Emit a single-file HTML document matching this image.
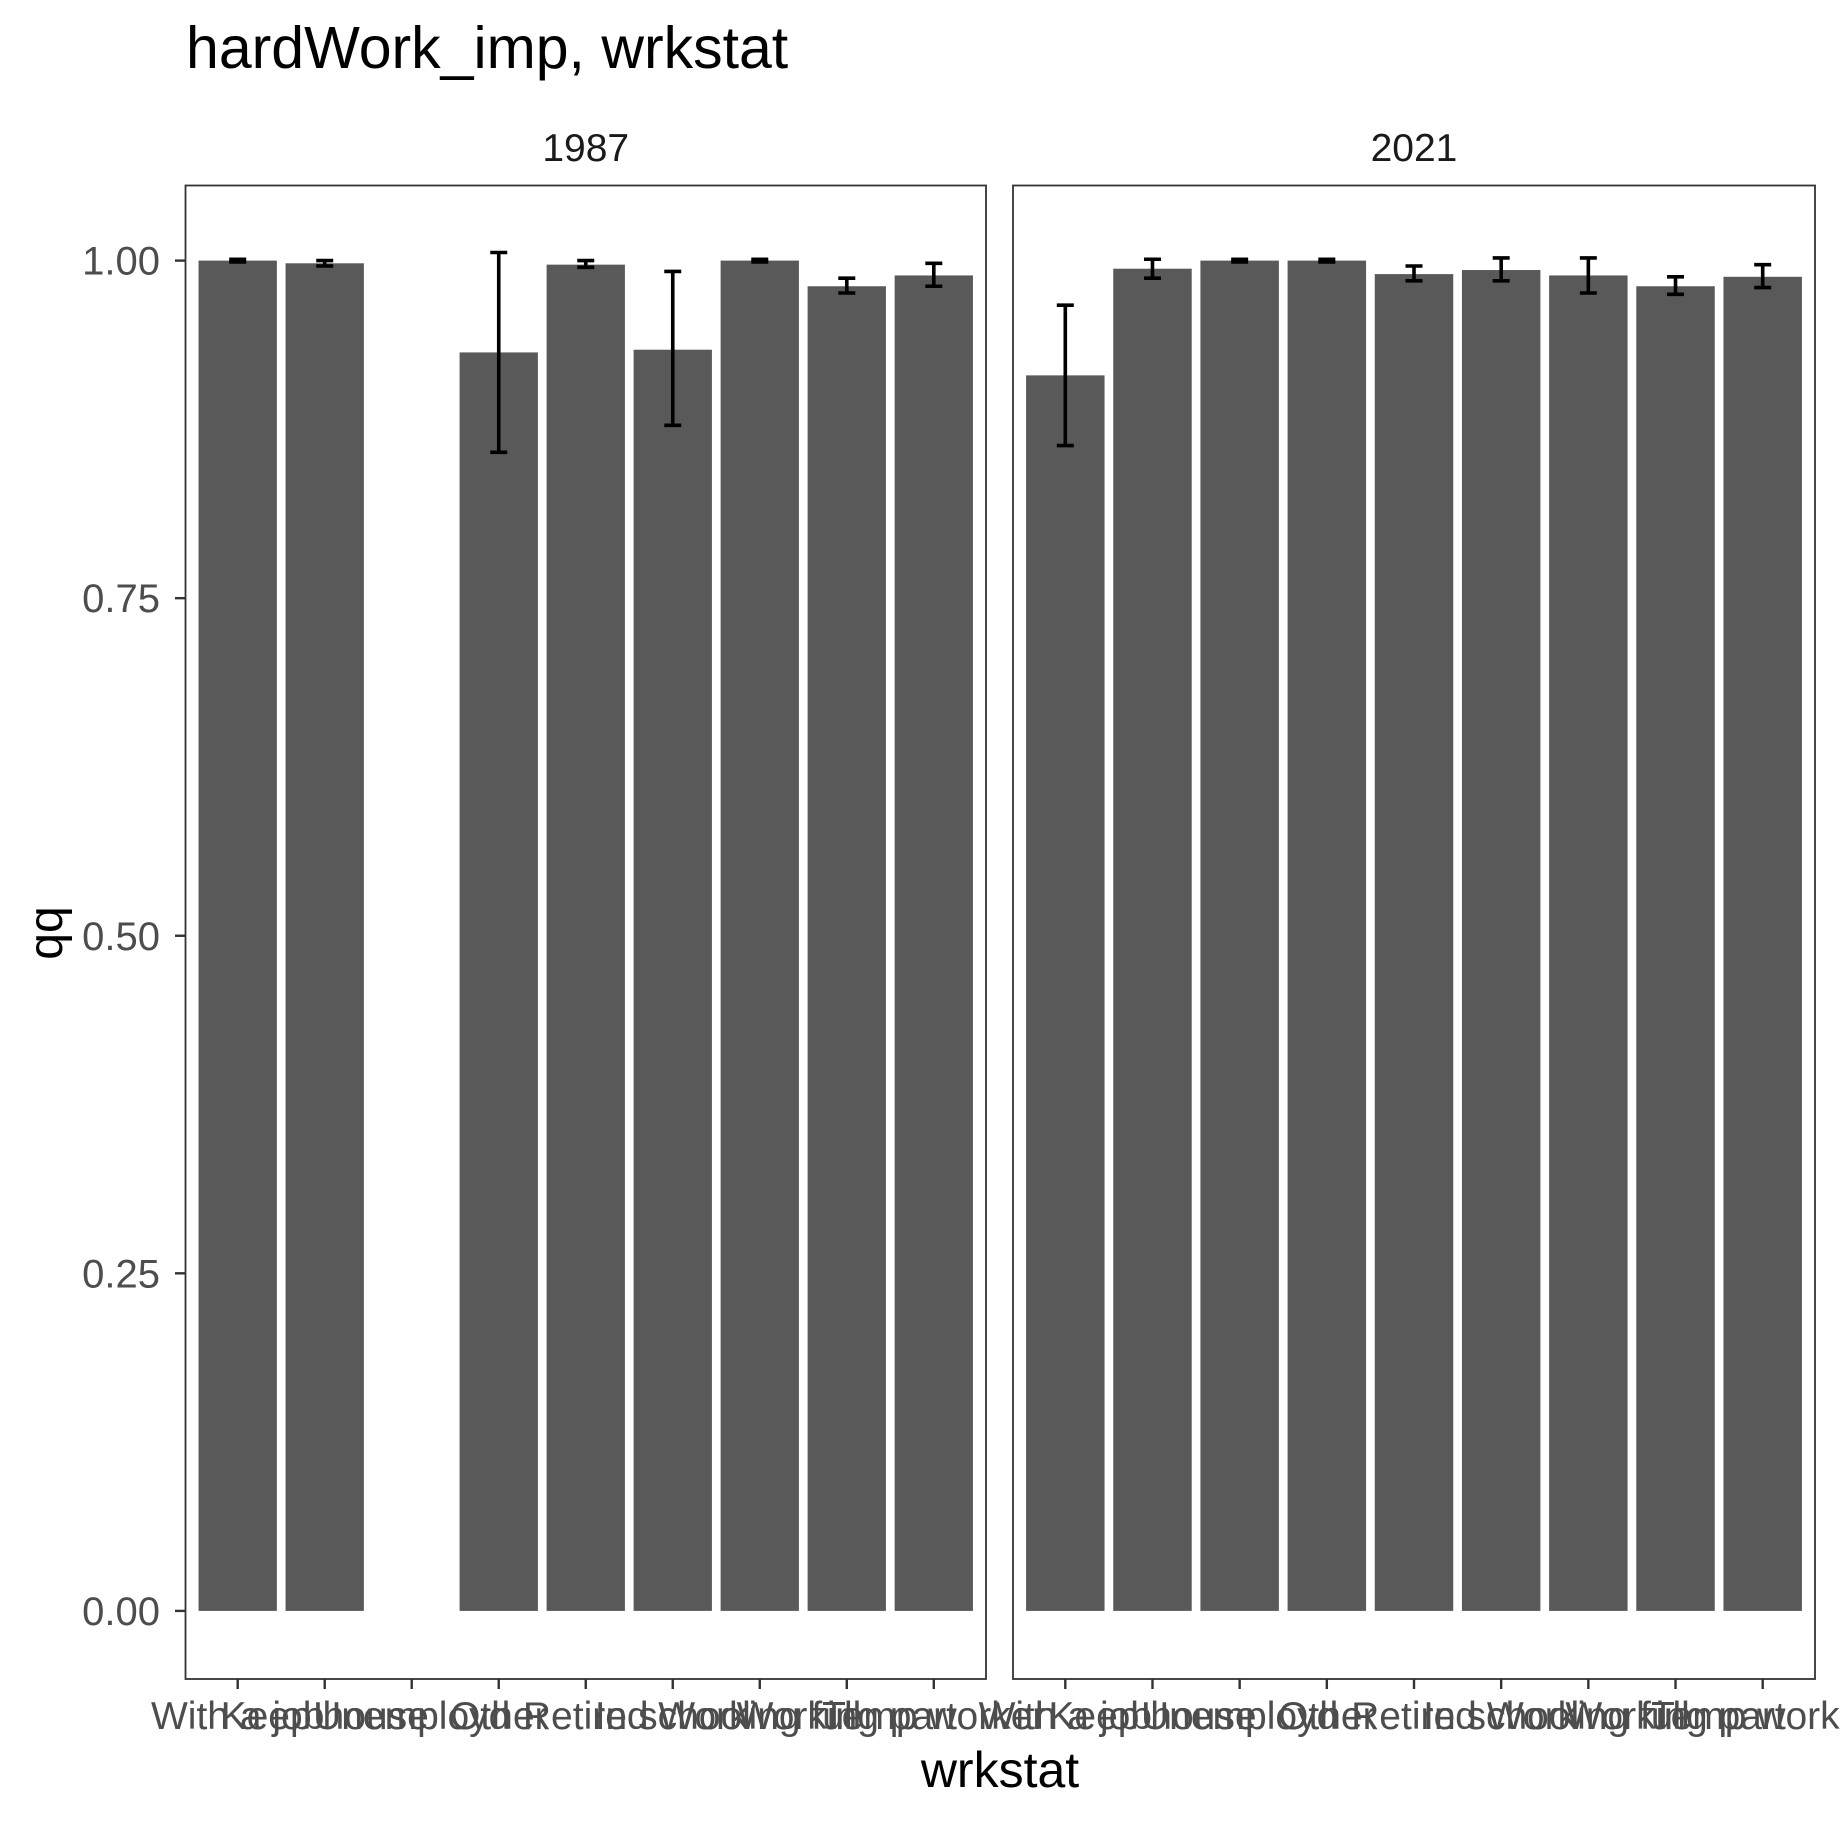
<!DOCTYPE html>
<html><head><meta charset="utf-8"><style>
html,body{margin:0;padding:0;background:#fff;}
svg text{font-family:"Liberation Sans",Arial,sans-serif;}
</style></head><body>
<svg id="chart" width="1841" height="1824" viewBox="0 0 1841 1824" xmlns="http://www.w3.org/2000/svg">
<rect x="0" y="0" width="1841" height="1824" fill="#fff"/>
<text x="186" y="68" font-size="59" fill="#000">hardWork_imp, wrkstat</text>
<text x="1000" y="1787" font-size="50" fill="#000" text-anchor="middle">wrkstat</text>
<text transform="translate(62,933) rotate(-90)" font-size="48" fill="#000" text-anchor="middle">qq</text>
<g id="plot"></g>
</svg>
<script>
const categories = ["With a job", "Keep house", "Unemployd", "Other", "Retired", "In school", "Working full", "Working part", "Temp worker"];
const facets = ["1987", "2021"];
const values1987 = [1.0, 0.998, null, 0.932, 0.997, 0.934, 1.0, 0.981, 0.989];
const lower1987 = [0.999, 0.996, null, 0.858, 0.995, 0.878, 0.999, 0.976, 0.981];
const upper1987 = [1.001, 1.0, null, 1.006, 1.0, 0.992, 1.001, 0.987, 0.998];
const values2021 = [0.915, 0.994, 1.0, 1.0, 0.990, 0.993, 0.989, 0.981, 0.988];
const lower2021 = [0.863, 0.987, 0.999, 0.999, 0.985, 0.985, 0.976, 0.975, 0.980];
const upper2021 = [0.967, 1.001, 1.001, 1.001, 0.996, 1.002, 1.002, 0.988, 0.997];
const yTicks = [0, 0.25, 0.5, 0.75, 1.0];
const yTickLabels = ["0.00", "0.25", "0.50", "0.75", "1.00"];

const NS = "http://www.w3.org/2000/svg";
const plot = document.getElementById("plot");
const panelTop = 185.5, panelBottom = 1679;
const panels = [{x0:185.5, x1:986}, {x0:1013, x1:1815}];
const seriesV = [values1987, values2021], seriesL = [lower1987, lower2021], seriesU = [upper1987, upper2021];
function yScale(v){ return 1610.9 - v * 1350.3; }
function xScale(p, i){ const w = (p.x1 - p.x0) / (categories.length - 1 + 1.2); return p.x0 + (i + 0.6) * w; }
function mk(tag, attrs){ const e = document.createElementNS(NS, tag); for (const k in attrs) e.setAttribute(k, attrs[k]); return e; }

panels.forEach((p, pi) => {
  const step = (p.x1 - p.x0) / (categories.length + 0.2);
  const strip = mk("text", {x:(p.x0+p.x1)/2, y:161, "font-size":39, fill:"#1a1a1a", "text-anchor":"middle"});
  
  
  strip.textContent = facets[pi];
  plot.appendChild(strip);
  categories.forEach((c, i) => {
    const v = seriesV[pi][i];
    const cx = xScale(p, i);
    if (v !== null) {
      const bw = step * 0.9;
      const r = mk("rect", {x:cx - bw/2, y:yScale(v), width:bw, height:yScale(0) - yScale(v), fill:"#595959"});
      
      
      plot.appendChild(r);
      const lo = seriesL[pi][i], hi = seriesU[pi][i];
      const g = mk("g", {stroke:"#000", "stroke-width":3.6, fill:"none"});
      
      
      const cw = 8.5;
      g.appendChild(mk("line", {x1:cx, x2:cx, y1:yScale(lo), y2:yScale(hi)}));
      g.appendChild(mk("line", {x1:cx-cw, x2:cx+cw, y1:yScale(lo), y2:yScale(lo)}));
      g.appendChild(mk("line", {x1:cx-cw, x2:cx+cw, y1:yScale(hi), y2:yScale(hi)}));
      plot.appendChild(g);
    }
    const t = mk("line", {x1:cx, x2:cx, y1:panelBottom, y2:panelBottom+10, stroke:"#333", "stroke-width":2.4});
    
    
    plot.appendChild(t);
    const lb = mk("text", {x:cx, y:1729, "font-size":39, fill:"#4d4d4d", "text-anchor":"middle"});
    
    
    lb.textContent = c;
    plot.appendChild(lb);
  });
  const border = mk("rect", {x:p.x0, y:panelTop, width:p.x1-p.x0, height:panelBottom-panelTop, fill:"none", stroke:"#333", "stroke-width":1.8});
  
  
  plot.appendChild(border);
});
yTicks.forEach((v, i) => {
  const y = yScale(v);
  const t = mk("line", {x1:175, x2:185.5, y1:y, y2:y, stroke:"#333", "stroke-width":2.4});
  
  
  plot.appendChild(t);
  const lb = mk("text", {x:160, y:y+14, "font-size":40, fill:"#4d4d4d", "text-anchor":"end"});
  
  
  lb.textContent = yTickLabels[i];
  plot.appendChild(lb);
});
</script>
</body></html>
